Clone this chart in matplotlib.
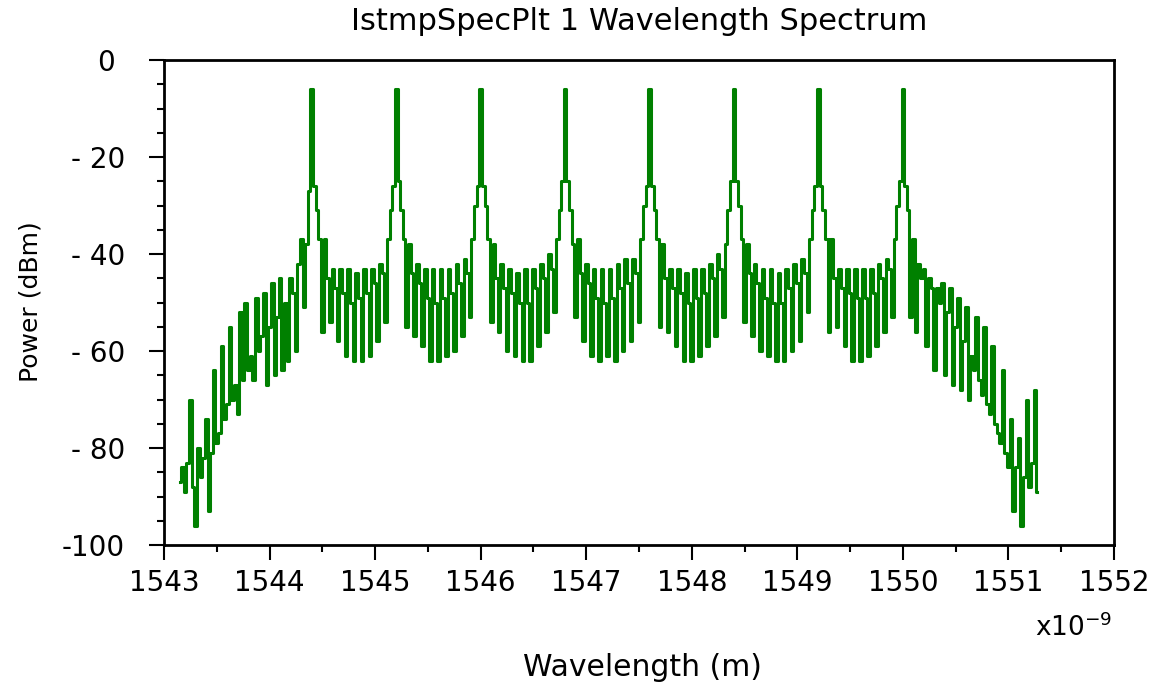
import numpy as np
import matplotlib
matplotlib.use('Agg')
import matplotlib.pyplot as plt
from matplotlib.ticker import MultipleLocator

# sampling grid of the spectrum (nm)
wl_start = 1543.15
wl_step = 0.025

# power readings (dBm)
left_tail = [-87, -84, -89, -83, -70, -88, -96, -80, -86, -82,
             -74, -93, -81, -64, -79, -77, -59, -74, -71, -55,
             -70, -67, -73, -52, -66, -50, -64, -61, -66, -49,
             -60, -57, -48, -67, -55, -46, -65, -53, -45, -64,
             -50, -62, -45, -48, -60, -42, -37, -51, -38, -27]
ch1 = [-6, -26, -31, -37, -56, -37, -45, -54, -43, -47, -58, -43, -48, -61, -43, -50,
       -62, -44, -49, -62, -43, -48, -61, -43, -46, -58, -42, -44, -54, -37, -31, -26]
ch2 = [-6, -25, -31, -37, -55, -38, -44, -57, -42, -46, -59, -43, -49, -62, -43, -50,
       -62, -43, -49, -61, -43, -48, -60, -42, -46, -57, -41, -44, -53, -37, -30, -26]
ch3 = [-6, -26, -30, -37, -54, -38, -45, -56, -42, -47, -60, -43, -48, -61, -44, -50,
       -62, -43, -50, -62, -43, -47, -59, -42, -45, -56, -40, -43, -52, -37, -31, -25]
ch4 = [-6, -25, -31, -38, -53, -37, -44, -58, -42, -46, -61, -43, -49, -62, -43, -50,
       -61, -43, -49, -62, -42, -47, -60, -41, -46, -58, -41, -44, -54, -37, -30, -26]
ch5 = [-6, -26, -31, -37, -55, -38, -45, -56, -43, -47, -59, -43, -48, -62, -44, -50,
       -62, -43, -49, -61, -43, -48, -59, -42, -45, -57, -40, -43, -53, -38, -31, -25]
ch6 = [-6, -25, -30, -37, -54, -38, -44, -57, -42, -46, -60, -43, -49, -61, -43, -50,
       -62, -44, -50, -62, -43, -47, -60, -42, -46, -58, -41, -44, -52, -37, -31, -26]
ch7 = [-6, -26, -31, -37, -56, -37, -45, -55, -43, -47, -59, -43, -48, -62, -43, -49,
       -62, -43, -49, -61, -43, -48, -59, -42, -45, -56, -41, -43, -53, -37, -30, -25]
ch8 = [-6]
right_tail = [-26, -31, -53, -37, -56, -42, -45, -43, -59, -45,
              -47, -64, -47, -50, -46, -65, -52, -47, -67, -55,
              -49, -68, -58, -51, -70, -61, -64, -53, -66, -69,
              -55, -71, -73, -59, -75, -77, -79, -64, -81, -84,
              -74, -93, -84, -78, -96, -86, -70, -88, -83, -68,
              -89]

x_ticks = [1543, 1544, 1545, 1546, 1547, 1548, 1549, 1550, 1551, 1552]
y_ticks = [0, -20, -40, -60, -80, -100]
y_tick_labels = ['0 ', '- 20', '- 40', '- 60', '- 80', '-100']

power = np.array(left_tail + ch1 + ch2 + ch3 + ch4 + ch5 + ch6 + ch7 + ch8 + right_tail)
wavelength = wl_start + wl_step * np.arange(len(power))

plt.rcParams['font.family'] = 'DejaVu Sans'

fig = plt.figure(figsize=(11.62, 6.91), dpi=100)
ax = fig.add_axes([164 / 1162, 1 - 545 / 691, 950 / 1162, 485 / 691])

ax.plot(wavelength, power, color='#008000', lw=2.2, drawstyle='steps-mid')

ax.set_xlim(1543, 1552)
ax.set_ylim(-100, 0)
ax.set_xticks(x_ticks)
ax.set_xticklabels([str(t) for t in x_ticks])
ax.set_yticks(y_ticks)
ax.set_yticklabels(y_tick_labels)
ax.xaxis.set_minor_locator(MultipleLocator(0.5))
ax.yaxis.set_minor_locator(MultipleLocator(5))

ax.tick_params(which='major', direction='out', length=11, width=1.5, labelsize=20)
ax.tick_params(which='minor', direction='out', length=5, width=1.5)
ax.tick_params(axis='x', pad=6)
ax.tick_params(axis='y', pad=17)
ax.tick_params(top=False, right=False)
for sp in ax.spines.values():
    sp.set_linewidth(2.0)

fig.text(639 / 1162, 1 - 21 / 691, 'IstmpSpecPlt 1 Wavelength Spectrum',
         ha='center', va='center', fontsize=22)
fig.text(642 / 1162, 1 - 667 / 691, 'Wavelength (m)',
         ha='center', va='center', fontsize=21.5)
fig.text(31 / 1162, 1 - 302 / 691, 'Power (dBm)', rotation=90,
         ha='center', va='center', fontsize=18)
fig.text(1035 / 1162, 1 - 628 / 691, r'x10$^{\mathregular{-9}}$',
         ha='left', va='center', fontsize=19)

fig.savefig('out.png', dpi=100)
